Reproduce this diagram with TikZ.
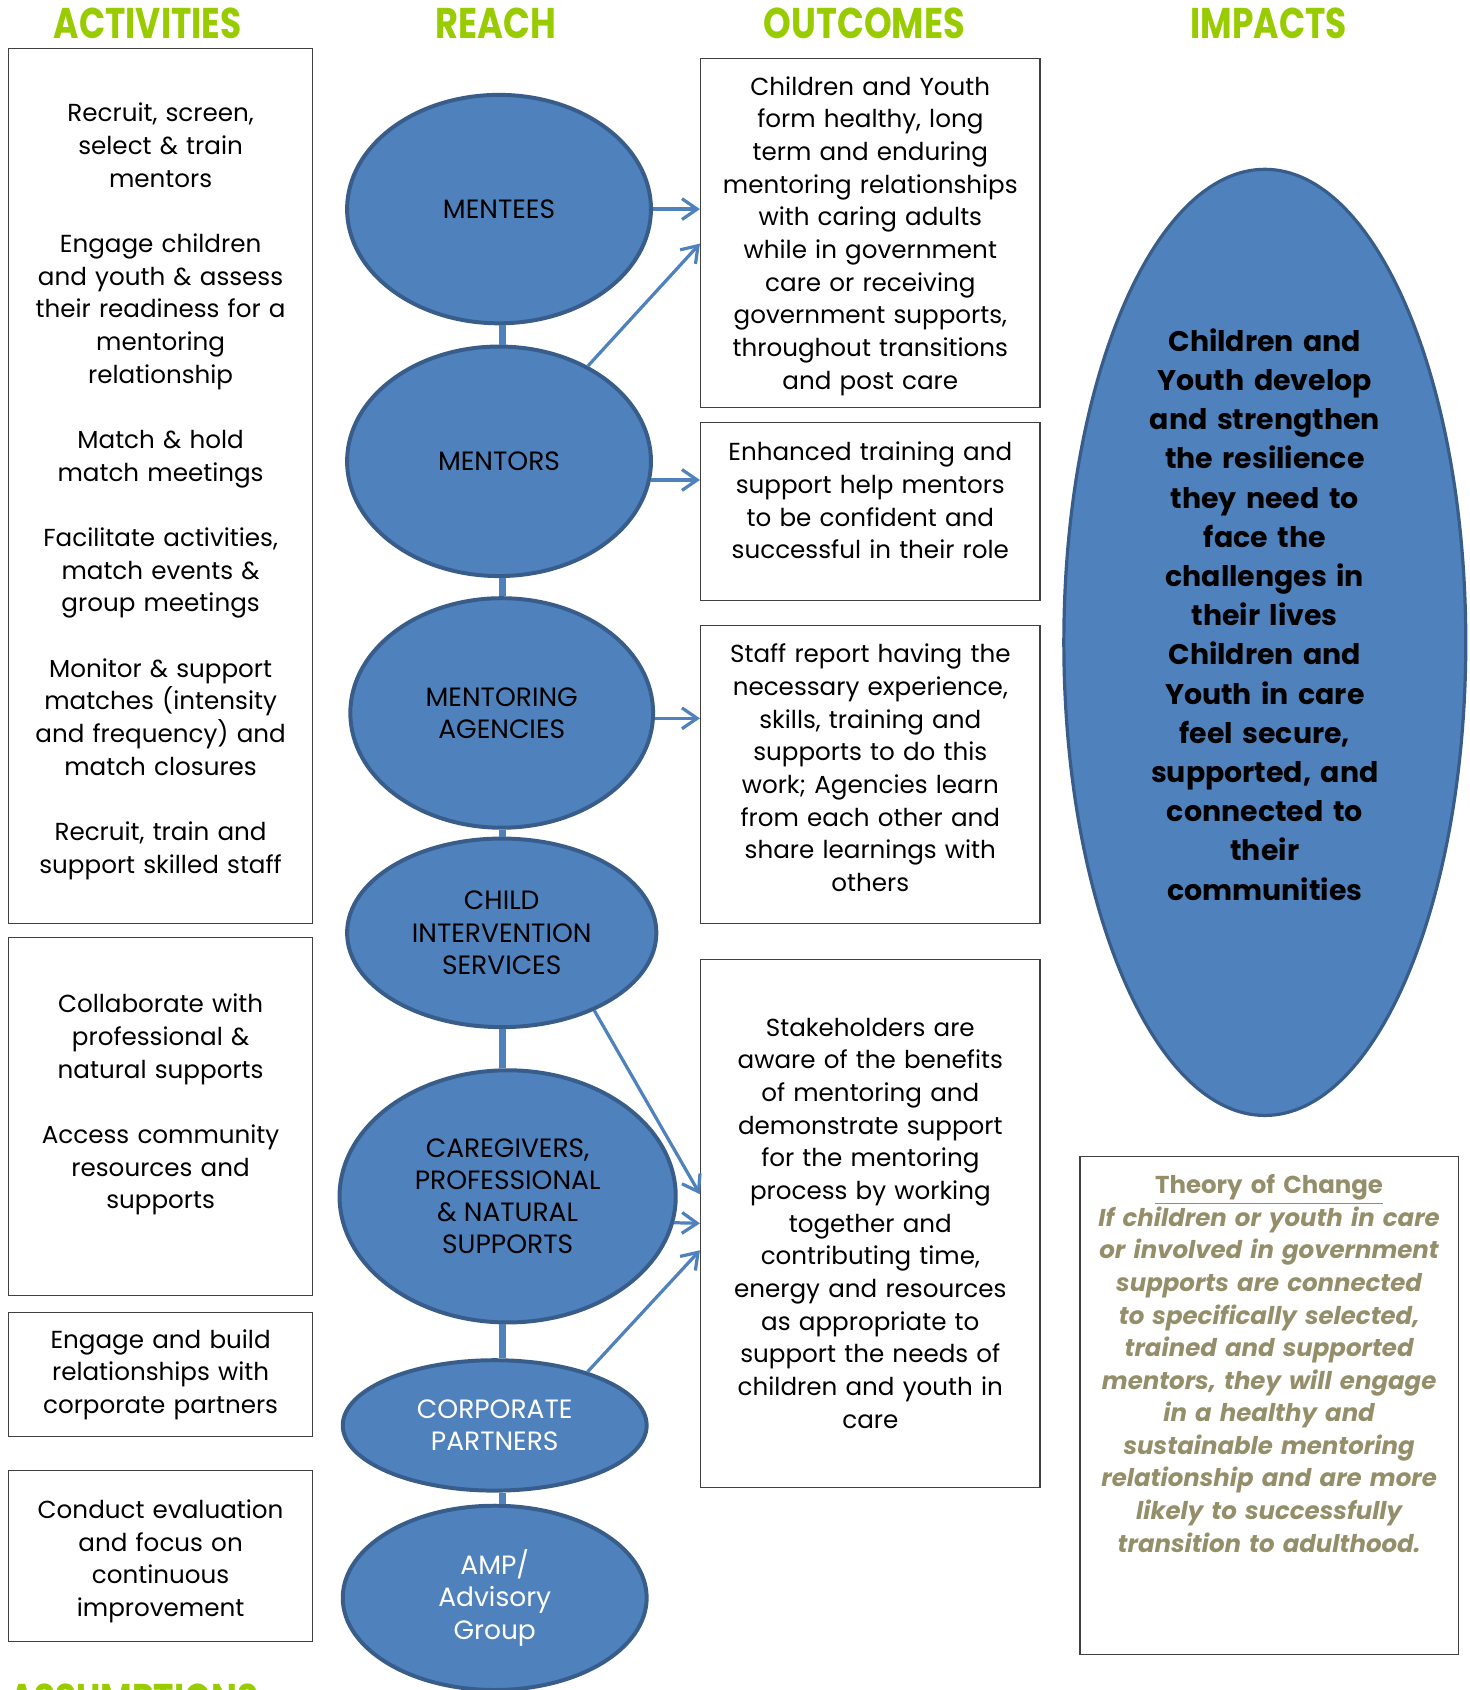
\documentclass[tikz,border=0pt]{standalone}
\usepackage{fontspec}
\setmainfont{Poppins}
\usepackage{tikz}
\usetikzlibrary{shapes.geometric,arrows.meta,calc}
\definecolor{reachfill}{HTML}{4F81BD}
\definecolor{reachline}{HTML}{385D8A}
\definecolor{headgreen}{HTML}{99CC00}
\definecolor{theoryolive}{HTML}{948F6A}

\begin{document}
\begin{tikzpicture}[x=0.02cm, y=-0.02cm,
	header/.style={font=\fontsize{22.7}{24}\selectfont\bfseries, text=headgreen, inner sep=0pt},
	box/.style={draw=black!75, line width=0.7pt, align=center, inner sep=0pt, font=\fontsize{13}{17.25}\selectfont},
	reach/.style={ellipse, draw=reachline, fill=reachfill, line width=2.1pt, inner sep=0pt, align=center, font=\fontsize{14}{17}\selectfont},
	link/.style={draw=reachfill, line width=3.5pt},
	arr/.style={draw=reachfill, line width=1.7pt, -{Straight Barb[length=8pt,width=11pt]}}]
	\clip (0,0) rectangle (1363,1568);
	\useasboundingbox (0,0) rectangle (1363,1568);

	\node[header] (hact) at (137,22) {\scalebox{0.8}[1]{ACTIVITIES}};
	\node[header] (hreach) at (460,22) {\scalebox{0.82}[1]{REACH}};
	\node[header] (hout) at (802,22) {\scalebox{0.82}[1]{OUTCOMES}};
	\node[header] (himp) at (1177,22) {\scalebox{0.8}[1]{IMPACTS}};
	\node[header, anchor=base west] (hass) at (8,1591) {\scalebox{0.8}[1]{ASSUMPTIONS}};

	\node[box, minimum width=5.64cm, minimum height=16.24cm, text width=5.64cm] (act1) at (149,451)
		{Recruit, screen,\\ select \& train\\ mentors\\[\baselineskip]
		Engage children\\ and youth \& assess\\ their readiness for a\\ mentoring\\ relationship\\[\baselineskip]
		Match \& hold\\ match meetings\\[\baselineskip]
		Facilitate activities,\\ match events \&\\ group meetings\\[\baselineskip]
		Monitor \& support\\ matches (intensity\\ and frequency) and\\ match closures\\[\baselineskip]
		Recruit, train and\\ support skilled staff\par\kern-0.2cm};
	\node[box, minimum width=5.64cm, minimum height=6.64cm, text width=5.64cm] (act2) at (149,1036)
		{Collaborate with\\ professional \&\\ natural supports\\[\baselineskip]
		Access community\\ resources and\\ supports\par\kern0.44cm};
	\node[box, minimum width=5.64cm, minimum height=2.3cm, text width=5.64cm] (act3) at (149,1275.5)
		{Engage and build\\ relationships with\\ corporate partners};
	\node[box, minimum width=5.64cm, minimum height=3.18cm, text width=5.64cm] (act4) at (149,1443.5)
		{Conduct evaluation\\ and focus on\\ continuous\\ improvement\par\kern-0.2cm};

	\node[reach, minimum width=5.64cm, minimum height=4.24cm] (mentees) at (463,194) {MENTEES};
	\node[reach, minimum width=5.64cm, minimum height=4.26cm] (mentors) at (463,428) {MENTORS};
	\node[reach, minimum width=5.62cm, minimum height=4.26cm] (agencies) at (465.5,661.5) {MENTORING\\ AGENCIES};
	\node[reach, minimum width=5.74cm, minimum height=3.5cm] (child) at (465.5,865.5) {CHILD\\ INTERVENTION\\ SERVICES};
	\node[reach, minimum width=6.24cm, minimum height=4.68cm] (caregivers) at (471,1110) {CAREGIVERS,\\ PROFESSIONAL\\ \& NATURAL\\ SUPPORTS};
	\node[reach, minimum width=5.64cm, minimum height=2.42cm, text=white] (corporate) at (459,1322.5) {CORPORATE\\ PARTNERS};
	\node[reach, minimum width=5.64cm, minimum height=3.42cm, text=white] (amp) at (459,1482.5) {AMP/\\ Advisory\\ Group};

	\coordinate (spine) at (466,0);
	\foreach \a/\b in {mentees/mentors, mentors/agencies, agencies/child, child/caregivers, caregivers/corporate, corporate/amp}
		\draw[link] (\a.south -| spine) -- (\b.north -| spine);

	\node[box, minimum width=6.3cm, minimum height=6.48cm, text width=6.3cm] (out1) at (807.5,216)
		{Children and Youth\\ form healthy, long\\ term and enduring\\ mentoring relationships\\ with caring adults\\ while in government\\ care or receiving\\ government supports,\\ throughout transitions\\ and post care\par\kern-0.12cm};
	\node[box, minimum width=6.3cm, minimum height=3.3cm, text width=6.3cm] (out2) at (807.5,474.5)
		{Enhanced training and\\ support help mentors\\ to be confident and\\ successful in their role\par\kern0.4cm};
	\node[box, minimum width=6.3cm, minimum height=5.54cm, text width=6.3cm] (out3) at (807.5,718.5)
		{Staff report having the\\ necessary experience,\\ skills, training and\\ supports to do this\\ work; Agencies learn\\ from each other and\\ share learnings with\\ others\par\kern0.24cm};
	\node[box, minimum width=6.3cm, minimum height=9.8cm, text width=6.3cm] (out4) at (807.5,1135)
		{Stakeholders are\\ aware of the benefits\\ of mentoring and\\ demonstrate support\\ for the mentoring\\ process by working\\ together and\\ contributing time,\\ energy and resources\\ as appropriate to\\ support the needs of\\ children and youth in\\ care};

	\draw[arr] (mentees.east) -- (mentees.east -| out1.west);
	\draw[arr] (mentors.47) -- ($(out1.west)+(0,10)$);
	\draw[arr] (mentors.-7) -- (mentors.-7 -| out2.west);
	\draw[arr] (agencies.-2) -- (agencies.-2 -| out3.west);
	\draw[arr] (child.-40) -- ($(out4.west)+(0,-27)$);
	\draw[arr] (caregivers.-9) -- (out4.west);
	\draw[arr] (corporate.30) -- ($(out4.west)+(0,25)$);

	\node[ellipse, draw=reachline, fill=reachfill, line width=1.7pt, inner sep=0pt, minimum width=7.46cm, minimum height=17.56cm,
		text width=4.8cm, align=center, font=\fontsize{15}{20.7}\selectfont\bfseries] (impact) at (1173.5,596)
		{Children and\\ Youth develop\\ and strengthen\\ the resilience\\ they need to\\ face the\\ challenges in\\ their lives\\
		Children and\\ Youth in care\\ feel secure,\\ supported, and\\ connected to\\ their\\ communities\par\kern1.04cm};

	\node[box, minimum width=7.02cm, minimum height=9.24cm, text width=7.02cm, text=theoryolive,
		font=\fontsize{12.9}{17.2}\selectfont\bfseries] (theory) at (1177.5,1304)
		{\underline{Theory of Change}\\ \itshape If children or youth in care\\ or involved in government\\ supports are connected\\ to specifically selected,\\ trained and supported\\ mentors, they will engage\\ in a healthy and\\ sustainable mentoring\\ relationship and are more\\ likely to successfully\\ transition to adulthood.\par\kern1.56cm};
\end{tikzpicture}
\end{document}
